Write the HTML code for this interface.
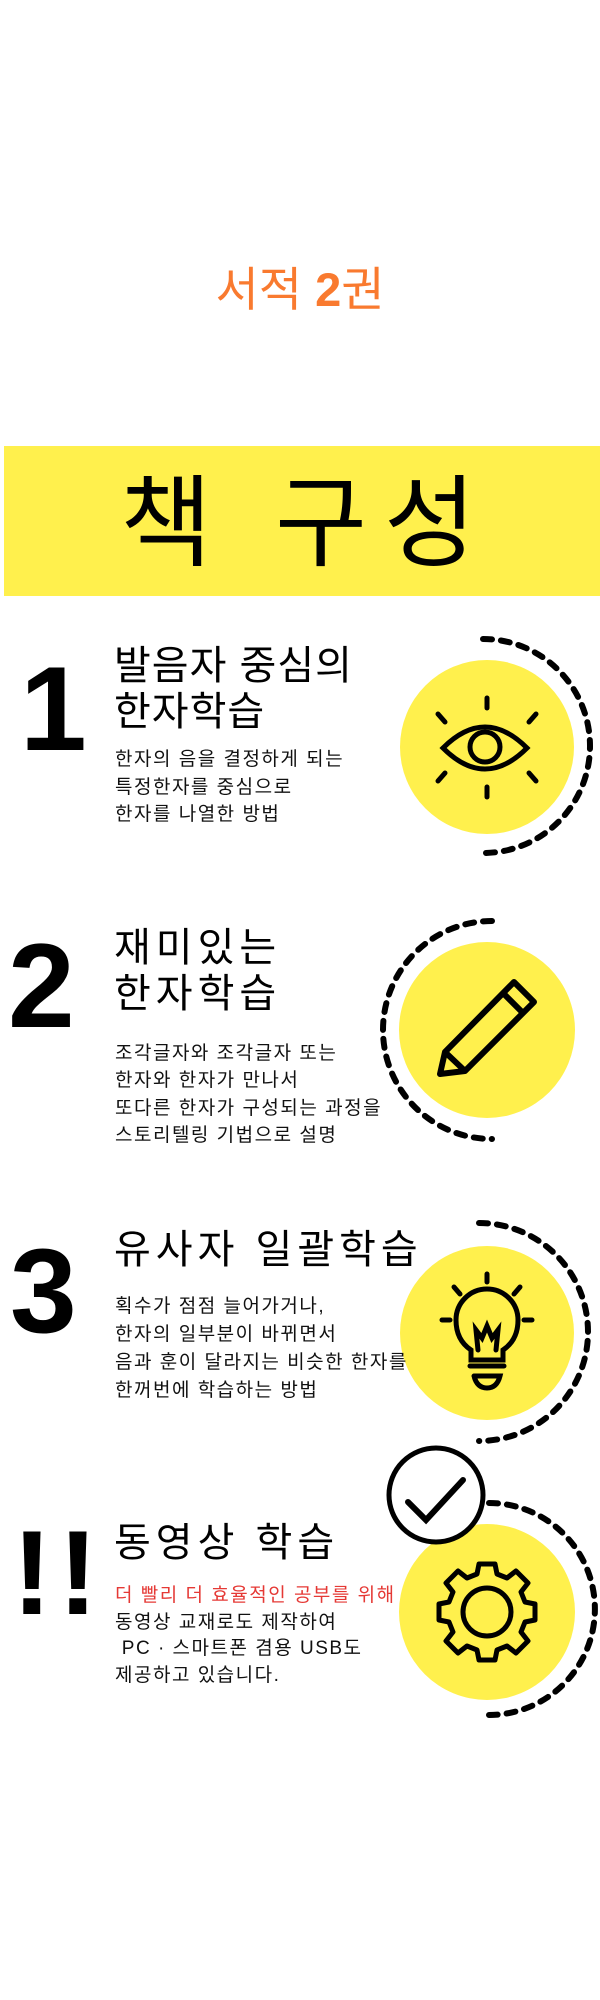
<!DOCTYPE html>
<html><head><meta charset="utf-8"><style>
body{margin:0;width:600px;height:2000px;background:#fff;position:relative;overflow:hidden;font-family:"Liberation Sans","Noto Sans CJK KR",sans-serif;}
.a{position:absolute;white-space:nowrap;}
.num{font-weight:700;font-size:120px;line-height:1;color:#000;}
.t{font-size:40px;line-height:46px;color:#000;letter-spacing:5px;}
.b{font-size:19px;line-height:27.5px;color:#111;letter-spacing:1.5px;}
.h{font-size:100px;line-height:100px;color:#000;top:474px;}
svg{position:absolute;left:0;top:0;}
</style></head><body>
<div class="a" style="left:0;width:600px;top:260px;text-align:center;font-size:47px;color:#f97a2f;line-height:60px;">서적 <b>2</b>권</div>
<div class="a" style="left:4px;top:446px;width:596px;height:150px;background:#fff04d;"></div>
<div class="a h" style="left:120px;">책</div>
<div class="a h" style="left:275px;">구</div>
<div class="a h" style="left:384px;">성</div>

<svg width="600" height="2000" viewBox="0 0 600 2000">
<g fill="#fff04d">
<circle cx="487" cy="747" r="87"/>
<circle cx="487" cy="1030" r="88"/>
<circle cx="487" cy="1333" r="87"/>
<circle cx="487" cy="1612" r="88"/>
</g>
<g fill="none" stroke="#000" stroke-width="6" stroke-linecap="round" stroke-dasharray="9 9">
<path d="M483 639 A107 107 0 0 1 483 853"/>
<path d="M492 921 A109 109 0 0 0 492 1139"/>
<path d="M479 1223 A109 109 0 0 1 479 1441"/>
<path d="M489 1503 A106 106 0 0 1 489 1715"/>
</g>
<g fill="none" stroke="#000" stroke-width="5" stroke-linecap="round">
<path d="M443 748 Q485 706 527 748 Q485 790 443 748 Z"/>
<circle cx="485" cy="747" r="15"/>
<line x1="487" y1="698" x2="487" y2="708"/><line x1="487" y1="787" x2="487" y2="797"/>
<line x1="438" y1="714" x2="445" y2="722"/><line x1="536" y1="714" x2="529" y2="722"/>
<line x1="438" y1="781" x2="445" y2="773"/><line x1="536" y1="781" x2="529" y2="773"/>
</g>
<g fill="none" stroke="#000" stroke-width="6" stroke-linejoin="round">
<path d="M440 1074 L445 1052 L514 982 L534 1002 L465 1071 Z"/>
<line x1="503" y1="993" x2="523" y2="1013"/>
<line x1="445" y1="1052" x2="465" y2="1071"/>
</g>
<g fill="none" stroke="#000" stroke-width="5" stroke-linecap="round">
<path d="M471 1360 L471 1350 Q456 1340 456 1320 A31 31 0 0 1 518 1320 Q518 1340 503 1350 L503 1360 Z"/>
<path d="M470 1366 L504 1366 M474 1376 L500 1376 Q497 1388 487 1388 Q477 1388 474 1376"/>
<path d="M478 1350 L476 1330 L482 1338 L487 1326 L492 1338 L498 1330 L496 1350"/>
<line x1="487" y1="1274" x2="487" y2="1282"/>
<line x1="454" y1="1287" x2="460" y2="1294"/><line x1="520" y1="1287" x2="514" y2="1294"/>
<line x1="442" y1="1320" x2="450" y2="1320"/><line x1="524" y1="1320" x2="532" y2="1320"/>
</g>
<circle cx="487" cy="1612" r="24" fill="none" stroke="#000" stroke-width="5"/>
<g transform="translate(487 1612)" fill="none" stroke="#000" stroke-width="5" stroke-linejoin="round">
<path d="M-8 -48 L8 -48 L10 -38 L20 -34 L29 -41 L41 -29 L34 -20 L38 -10 L48 -8 L48 8 L38 10 L34 20 L41 29 L29 41 L20 34 L10 38 L8 48 L-8 48 L-10 38 L-20 34 L-29 41 L-41 29 L-34 20 L-38 10 L-48 8 L-48 -8 L-38 -10 L-34 -20 L-41 -29 L-29 -41 L-20 -34 L-10 -38 Z"/>
</g>
<circle cx="436" cy="1495" r="47" fill="#fff" stroke="#000" stroke-width="5"/>
<path d="M408 1502 L426 1520 L463 1480" fill="none" stroke="#000" stroke-width="6" stroke-linecap="round"/>
</svg>

<div class="a num" style="left:20px;top:649px;">1</div>
<div class="a t" style="left:114px;top:643px;letter-spacing:1px;">발음자 중심의<br>한자학습</div>
<div class="a b" style="left:115px;top:746px;">한자의 음을 결정하게 되는<br>특정한자를 중심으로<br>한자를 나열한 방법</div>

<div class="a num" style="left:8px;top:926px;">2</div>
<div class="a t" style="left:114px;top:925px;">재미있는<br>한자학습</div>
<div class="a b" style="left:115px;top:1040px;line-height:27.3px;">조각글자와 조각글자 또는<br>한자와 한자가 만나서<br>또다른 한자가 구성되는 과정을<br>스토리텔링 기법으로 설명</div>

<div class="a num" style="left:10px;top:1231px;">3</div>
<div class="a t" style="left:114px;top:1227px;">유사자 일괄학습</div>
<div class="a b" style="left:115px;top:1293px;line-height:28px;">획수가 점점 늘어가거나,<br>한자의 일부분이 바뀌면서<br>음과 훈이 달라지는 비슷한 한자를<br>한꺼번에 학습하는 방법</div>

<div class="a num" style="left:12px;top:1513px;letter-spacing:6px;">!!</div>
<div class="a t" style="left:114px;top:1520px;">동영상 학습</div>
<div class="a b" style="left:115px;top:1583px;line-height:26.7px;"><span style="color:#e53935">더 빨리 더 효율적인 공부를 위해</span><br>동영상 교재로도 제작하여<br>&nbsp;PC · 스마트폰 겸용 USB도<br>제공하고 있습니다.</div>
</body></html>
